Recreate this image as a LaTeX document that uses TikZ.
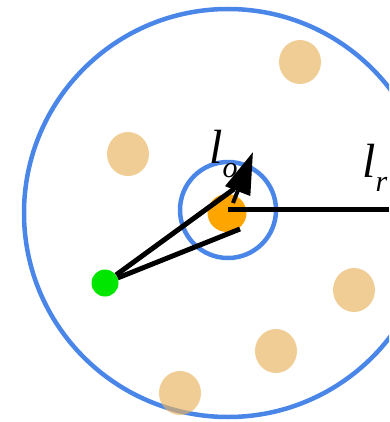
\documentclass[tikz,border=0pt]{standalone}
\usepackage{fontspec}
\setmainfont{Liberation Serif}
\usetikzlibrary{arrows.meta,shapes.geometric}
\definecolor{ringblue}{HTML}{4A86E8}
\definecolor{coreorange}{HTML}{FFA500}
\definecolor{dotorange}{HTML}{E9B25E}
\definecolor{agentgreen}{HTML}{00E600}

\begin{document}
\begin{tikzpicture}[x=1pt,y=-1pt,
    ring/.style={draw=ringblue,line width=4.5pt,circle,inner sep=0pt},
    obstacle/.style={ellipse,fill=dotorange,fill opacity=0.65,inner sep=0pt,minimum width=42pt,minimum height=44pt},
    ray/.style={line width=5pt},
    lbl/.style={inner sep=0pt,anchor=base west,font=\fontsize{48}{48}\selectfont\itshape}]
  \useasboundingbox (0,0) rectangle (389,422);
  \clip (0,0) rectangle (389,422);
  % rings
  \node[ring,minimum size=408pt] (outer) at (228,213) {};
  \node[ring,minimum size=96pt] (inner) at (228,210) {};
  % other agents
  \node[obstacle] (d1) at (300,62) {};
  \node[obstacle] (d2) at (128,154) {};
  \node[obstacle] (d3) at (354,290) {};
  \node[obstacle] (d4) at (276,351) {};
  \node[obstacle] (d5) at (180,393) {};
  % core and agent
  \node[ellipse,fill=coreorange,inner sep=0pt,minimum width=39pt,minimum height=38pt] (core) at (227,213) {};
  \node[circle,fill=agentgreen,inner sep=0pt,minimum size=27pt] (agent) at (105,283) {};
  \coordinate (rend) at (389,209);
  \coordinate (corec) at (228,209);
  \coordinate (upper) at (234,189);
  \coordinate (lower) at (240,229);
  \coordinate (astart) at (233,203);
  \coordinate (atip) at (253,152);
  % rays
  \draw[ray] (corec) -- (rend);
  \draw[ray] (agent) -- (upper);
  \draw[ray] (agent) -- (lower);
  \draw[line width=4pt,-{Triangle[length=42pt,width=26pt]}] (astart) -- (atip);
  % labels
  \node[lbl] (lo) at (209,163) {l\raisebox{-14pt}{\fontsize{30}{30}\selectfont o}};
  \node[lbl] (lr) at (362,177) {l\raisebox{-14pt}{\fontsize{30}{30}\selectfont r}};
\end{tikzpicture}
\end{document}
